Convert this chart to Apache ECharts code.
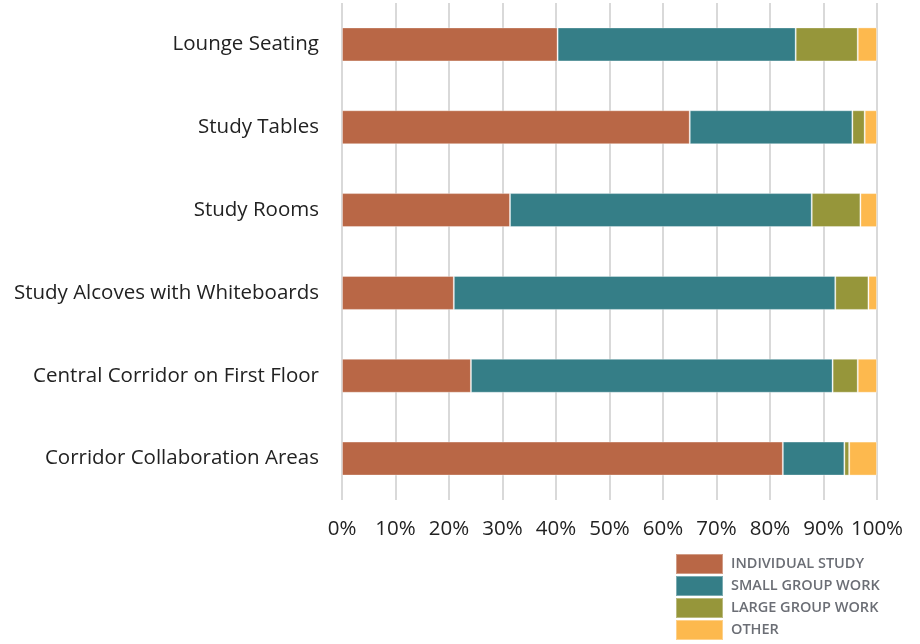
<!DOCTYPE html>
<html><head><meta charset="utf-8">
<script src="https://cdn.jsdelivr.net/npm/echarts@6/dist/echarts.min.js"></script>
<style>html,body{margin:0;padding:0;background:#fff}#c{width:920px;height:644px}</style>
</head><body><div id="c"></div>
<script>
const categories = ["Lounge Seating","Study Tables","Study Rooms","Study Alcoves with Whiteboards","Central Corridor on First Floor","Corridor Collaboration Areas"];
const individualStudy = [40.3, 65.0, 31.4, 20.9, 24.1, 82.4];
const smallGroupWork = [44.5, 30.4, 56.4, 71.3, 67.6, 11.5];
const largeGroupWork = [11.6, 2.3, 9.1, 6.2, 4.7, 0.9];
const other = [3.6, 2.3, 3.1, 1.6, 3.6, 5.2];
const seriesNames = ["INDIVIDUAL STUDY","SMALL GROUP WORK","LARGE GROUP WORK","OTHER"];
const colors = ["#B96746","#357E87","#96963A","#FDB94E"];
const values = [individualStudy, smallGroupWork, largeGroupWork, other];

const chart = echarts.init(document.getElementById('c'));
chart.setOption({
  animation:false,
  grid:{left:342,right:43,top:3,bottom:144},
  xAxis:{type:'value',min:0,max:100,interval:10,
    axisLabel:{formatter:'{value}%',fontFamily:'Open Sans',fontSize:20.5,color:'#222',margin:19},
    splitLine:{show:true,lineStyle:{color:'#d9d9d9',width:2}},
    axisLine:{show:false},axisTick:{show:false}},
  yAxis:{type:'category',data:categories,inverse:true,
    axisLabel:{fontFamily:'Open Sans',fontSize:20.5,color:'#222',margin:23},
    axisLine:{show:false},axisTick:{show:false}},
  legend:{orient:'vertical',left:675,top:553,height:120,padding:0,itemWidth:47,itemHeight:20,itemGap:0,
    icon:'rect',data:seriesNames,
    textStyle:{fontFamily:'Open Sans',fontSize:14.5,lineHeight:20,fontWeight:600,color:'#6b6e75',padding:[0,0,0,3]}},
  series: seriesNames.map((n,i)=>({name:n,type:'bar',stack:'total',barWidth:34,
    data:values[i],itemStyle:{color:colors[i],borderColor:'rgba(255,255,255,0.35)',borderWidth:1}}))
});
</script></body></html>
